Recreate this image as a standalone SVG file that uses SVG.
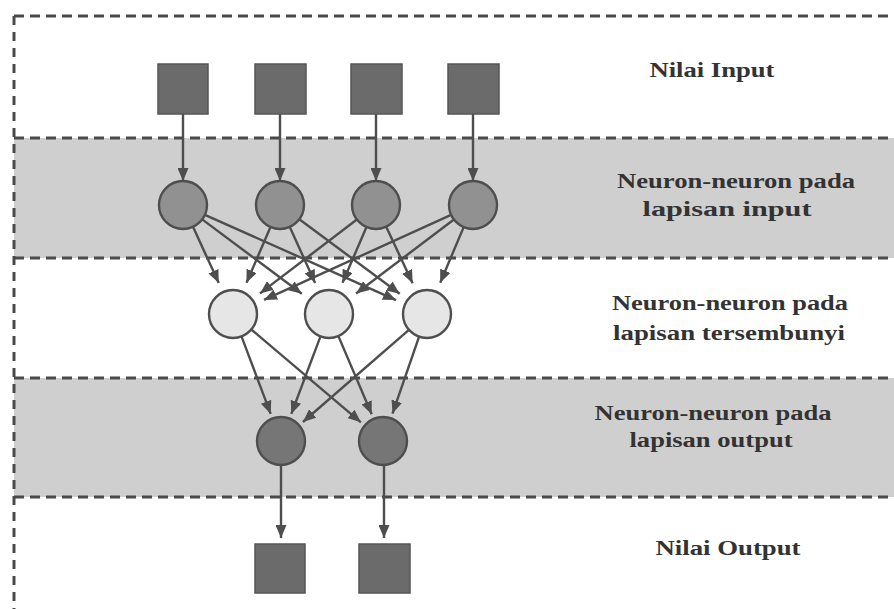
<svg xmlns="http://www.w3.org/2000/svg" width="894" height="609" viewBox="0 0 894 609">
<style>
.band{fill:#cfcfcf}
.dash{stroke:#4a4a4a;stroke-width:3;stroke-dasharray:10 6;fill:none}
.vdash{stroke:#4a4a4a;stroke-width:3;stroke-dasharray:9 7;fill:none}
.sq{fill:#6b6b6b;stroke:#555;stroke-width:1.5}
.nin{fill:#919191;stroke:#4e4e4e;stroke-width:2.4}
.nhid{fill:#e6e6e6;stroke:#4e4e4e;stroke-width:2.4}
.nout{fill:#767676;stroke:#4e4e4e;stroke-width:2.4}
.edge{stroke:#4e4e4e;stroke-width:2.4;fill:none;marker-end:url(#ah)}
.lbl{font-family:"Liberation Serif","Times New Roman",serif;font-weight:bold;font-size:20px;fill:#333;text-anchor:middle}
</style>
<defs>
<marker id="ah" viewBox="0 0 13 11" refX="13" refY="5.5" markerWidth="13" markerHeight="11" markerUnits="userSpaceOnUse" orient="auto">
<path d="M0,0 L13,5.5 L0,11 z" fill="#4e4e4e"/>
</marker>
</defs>
<rect width="894" height="609" fill="#fff"/>
<g id="bands">
<rect class="band" x="14" y="138" width="880" height="120"/>
<rect class="band" x="14" y="378" width="880" height="119"/>
<line class="dash" x1="14" y1="16" x2="894" y2="16"/>
<line class="dash" x1="14" y1="138" x2="894" y2="138"/>
<line class="dash" x1="14" y1="258" x2="894" y2="258"/>
<line class="dash" x1="14" y1="378" x2="894" y2="378"/>
<line class="dash" x1="14" y1="497" x2="894" y2="497"/>
<line class="vdash" x1="14" y1="16" x2="14" y2="609"/>
</g>
<g id="connectors">
<line class="edge" x1="183" y1="114" x2="183" y2="181"/>
<line class="edge" x1="280" y1="114" x2="280" y2="181"/>
<line class="edge" x1="376" y1="114" x2="376" y2="181"/>
<line class="edge" x1="473" y1="114" x2="473" y2="181"/>
<line class="edge" x1="193.0" y1="226.8" x2="218.8" y2="283.1"/>
<line class="edge" x1="202.2" y1="219.4" x2="301.8" y2="293.7"/>
<line class="edge" x1="204.9" y1="214.8" x2="396.0" y2="300.1"/>
<line class="edge" x1="270.5" y1="227.0" x2="246.5" y2="282.8"/>
<line class="edge" x1="289.8" y1="226.9" x2="315.1" y2="283.0"/>
<line class="edge" x1="299.3" y1="219.3" x2="399.7" y2="293.7"/>
<line class="edge" x1="356.9" y1="219.5" x2="260.0" y2="293.4"/>
<line class="edge" x1="366.5" y1="227.0" x2="342.5" y2="282.8"/>
<line class="edge" x1="386.2" y1="226.7" x2="412.6" y2="283.2"/>
<line class="edge" x1="451.1" y1="214.9" x2="264.0" y2="299.9"/>
<line class="edge" x1="453.9" y1="219.5" x2="356.1" y2="293.5"/>
<line class="edge" x1="463.7" y1="227.1" x2="440.2" y2="282.7"/>
<line class="edge" x1="241.5" y1="336.4" x2="270.7" y2="413.9"/>
<line class="edge" x1="251.3" y1="329.5" x2="360.9" y2="422.3"/>
<line class="edge" x1="320.5" y1="336.4" x2="291.3" y2="413.9"/>
<line class="edge" x1="338.4" y1="336.1" x2="371.7" y2="414.3"/>
<line class="edge" x1="408.9" y1="329.8" x2="302.9" y2="422.0"/>
<line class="edge" x1="419.1" y1="336.7" x2="392.5" y2="413.6"/>
<line class="edge" x1="281" y1="465" x2="281" y2="538"/>
<line class="edge" x1="384" y1="465" x2="384" y2="538"/>
</g>
<g id="input-values">
<rect class="sq" x="158" y="64" width="50" height="50"/>
<rect class="sq" x="255" y="64" width="51" height="50"/>
<rect class="sq" x="351" y="64" width="51" height="50"/>
<rect class="sq" x="448" y="64" width="51" height="50"/>
</g>
<g id="input-neurons">
<circle class="nin" cx="183" cy="205" r="24"/>
<circle class="nin" cx="280" cy="205" r="24"/>
<circle class="nin" cx="376" cy="205" r="24"/>
<circle class="nin" cx="473" cy="205" r="24"/>
</g>
<g id="hidden-neurons">
<circle class="nhid" cx="233" cy="314" r="24"/>
<circle class="nhid" cx="329" cy="314" r="24"/>
<circle class="nhid" cx="427" cy="314" r="24"/>
</g>
<g id="output-neurons">
<circle class="nout" cx="281" cy="441" r="24"/>
<circle class="nout" cx="383" cy="441" r="24"/>
</g>
<g id="output-values">
<rect class="sq" x="255" y="544" width="50" height="49"/>
<rect class="sq" x="359" y="544" width="51" height="49"/>
</g>
<g id="labels">
<text class="lbl" x="712" y="77" textLength="125" lengthAdjust="spacingAndGlyphs">Nilai Input</text>
<text class="lbl" x="736" y="188" textLength="238" lengthAdjust="spacingAndGlyphs">Neuron-neuron pada</text>
<text class="lbl" x="727" y="216" textLength="169" lengthAdjust="spacingAndGlyphs">lapisan input</text>
<text class="lbl" x="730" y="310" textLength="236" lengthAdjust="spacingAndGlyphs">Neuron-neuron pada</text>
<text class="lbl" x="729" y="340" textLength="232" lengthAdjust="spacingAndGlyphs">lapisan tersembunyi</text>
<text class="lbl" x="713" y="420" textLength="237" lengthAdjust="spacingAndGlyphs">Neuron-neuron pada</text>
<text class="lbl" x="711" y="447" textLength="163" lengthAdjust="spacingAndGlyphs">lapisan output</text>
<text class="lbl" x="728" y="555" textLength="145" lengthAdjust="spacingAndGlyphs">Nilai Output</text>
</g>
</svg>
